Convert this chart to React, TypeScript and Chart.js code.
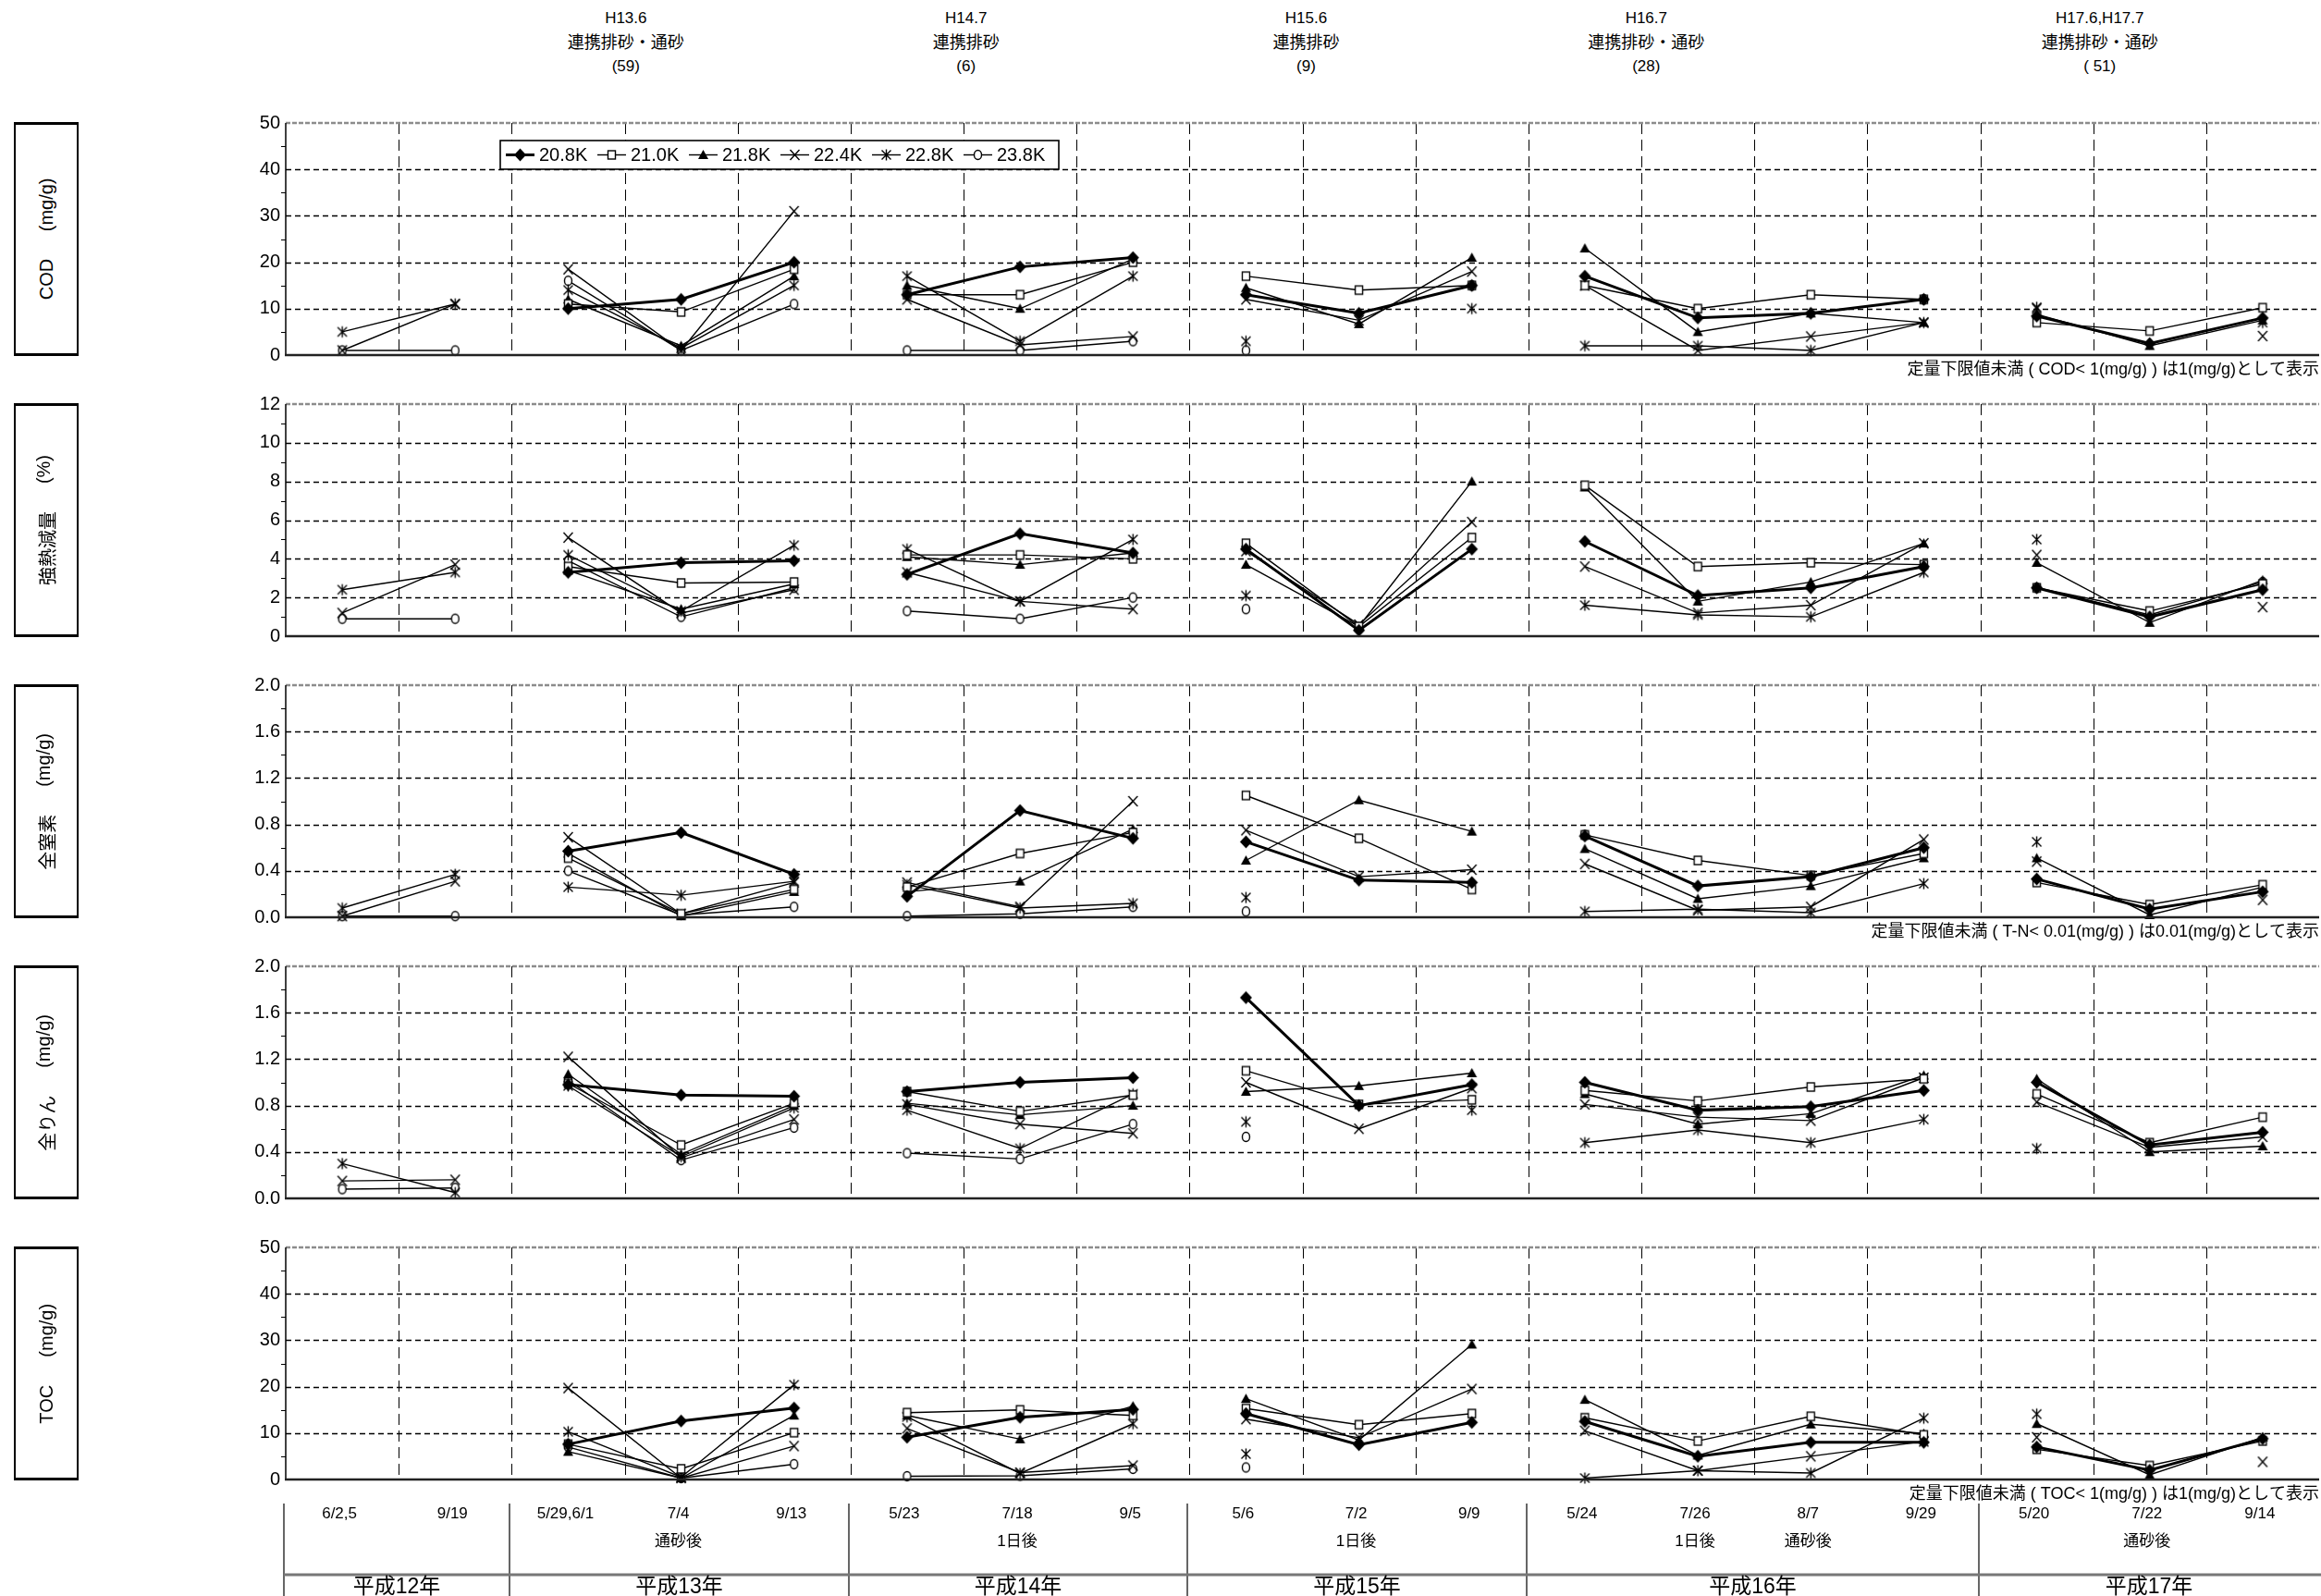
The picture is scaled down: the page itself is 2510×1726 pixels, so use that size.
import React, { useEffect, useRef } from 'react';
import { Chart, registerables } from 'chart.js';

Chart.register(...registerables);

// ---------- geometry ----------
const PAGE_W = 2510;
const PAGE_H = 1726;
const CANVAS_W = 2516;
const PLOT_LEFT = 309;
const PANEL_TOP0 = 133;
const PANEL_STEP = 304;
const PANEL_H = 251;
const PAD_TOP = 20;
const FONT = "'Liberation Sans', Arial, 'Noto Sans CJK JP', sans-serif";

// ---------- categories ----------
const slotLabels = ['6/2,5', '9/19', '5/29,6/1', '7/4', '9/13', '5/23', '7/18', '9/5', '5/6', '7/2', '9/9', '5/24', '7/26', '8/7', '9/29', '5/20', '7/22', '9/14'];
const slotNotes = ['', '', '', '通砂後', '', '', '1日後', '', '', '1日後', '', '', '1日後', '通砂後', '', '', '通砂後', ''];
const slotYear = [12, 12, 13, 13, 13, 14, 14, 14, 15, 15, 15, 16, 16, 16, 16, 17, 17, 17];
const yearLabels = ['平成12年', '平成13年', '平成14年', '平成15年', '平成16年', '平成17年'];
const yearStart = [0, 2, 5, 8, 11, 15];
const yearEnd = [2, 5, 8, 11, 15, 18];
const seriesNames = ['20.8K', '21.0K', '21.8K', '22.4K', '22.8K', '23.8K'];
const eventSlots = [3, 6, 9, 12, 16];
const eventTexts = [
  ['H13.6', '連携排砂・通砂', '(59)'],
  ['H14.7', '連携排砂', '(6)'],
  ['H15.6', '連携排砂', '(9)'],
  ['H16.7', '連携排砂・通砂', '(28)'],
  ['H17.6,H17.7', '連携排砂・通砂', '( 51)'],
];

// ---------- COD (mg/g) ----------
const cod208 = [null, null, 10, 12, 20, 13, 19, 21, 13, 9, 15, 17, 8, 9, 12, 8.4, 2.5, 8];
const cod210 = [null, null, 11, 9.3, 18.5, 13, 13, 20, 17, 14, 15, 15, 10, 13, 12, 7, 5.2, 10.2];
const cod218 = [null, null, 12, 2, 17, 15, 10, 20.7, 14.5, 6.7, 21, 23, 5, 9, 7, 8.8, 2, 7.5];
const cod224 = [1, 11, 18.5, 1, 31, 12, 2.2, 4, 12, 7.5, 18, 15, 1, 4, 7, 10, null, 4.1];
const cod228 = [5, 11, 14, 1.5, 15, 17, 3, 17, 3, null, 10, 2, 2, 1, 7, 10.3, null, 7];
const cod238 = [1, 1, 16, 1, 11, 1, 1, 3, 1, null, 15, null, null, null, 12, null, null, null];

// ---------- 強熱減量 (%) ----------
const ig208 = [null, null, 3.3, 3.8, 3.9, 3.2, 5.3, 4.3, 4.5, 0.3, 4.5, 4.9, 2.1, 2.5, 3.6, 2.5, 1.0, 2.4];
const ig210 = [null, null, 3.6, 2.75, 2.8, 4.2, 4.2, 4.0, 4.8, 0.5, 5.1, 7.8, 3.6, 3.8, 3.7, 2.5, 1.3, 2.7];
const ig218 = [null, null, 3.4, 1.4, 2.7, 4.1, 3.7, 4.3, 3.7, 0.5, 8.0, 7.7, 1.8, 2.8, 4.8, 3.8, 0.7, 2.9];
const ig224 = [1.2, 3.7, 5.1, 1.2, 2.4, 3.3, 1.8, 1.4, 4.4, 0.6, 5.9, 3.6, 1.2, 1.6, 4.8, 4.2, null, 1.5];
const ig228 = [2.4, 3.3, 4.2, 1.3, 4.7, 4.5, 1.8, 5.0, 2.1, null, null, 1.6, 1.1, 1.0, 3.3, 5.0, null, null];
const ig238 = [0.9, 0.9, 3.9, 1.0, 2.5, 1.3, 0.9, 2.0, 1.4, null, null, null, null, null, null, 2.5, 1.1, 2.8];

// ---------- 全窒素 (mg/g) ----------
const tn208 = [null, null, 0.57, 0.73, 0.37, 0.18, 0.92, 0.68, 0.65, 0.32, 0.30, 0.70, 0.27, 0.35, 0.60, 0.33, 0.07, 0.22];
const tn210 = [null, null, 0.51, 0.03, 0.24, 0.26, 0.55, 0.73, 1.05, 0.68, 0.24, 0.71, 0.49, 0.36, 0.55, 0.30, 0.11, 0.28];
const tn218 = [null, null, 0.55, 0.01, 0.22, 0.22, 0.31, 0.76, 0.49, 1.01, 0.74, 0.59, 0.16, 0.27, 0.51, 0.51, 0.02, 0.26];
const tn224 = [0.01, 0.31, 0.69, 0.03, 0.30, 0.30, 0.09, 1.0, 0.75, 0.35, 0.41, 0.46, 0.06, 0.09, 0.67, 0.48, null, 0.15];
const tn228 = [0.08, 0.37, 0.26, 0.19, 0.31, 0.28, 0.08, 0.12, 0.17, null, null, 0.05, 0.07, 0.04, 0.29, 0.65, null, null];
const tn238 = [0.01, 0.01, 0.40, 0.02, 0.09, 0.01, 0.03, 0.09, 0.05, null, null, 0.71, null, 0.35, null, null, null, null];

// ---------- 全りん (mg/g) ----------
const tp208 = [null, null, 0.98, 0.89, 0.88, 0.92, 1.0, 1.04, 1.73, 0.80, 0.98, 1.0, 0.76, 0.79, 0.93, 1.0, 0.46, 0.57];
const tp210 = [null, null, 0.99, 0.46, 0.82, 0.92, 0.75, 0.89, 1.10, 0.81, 0.85, 0.93, 0.84, 0.96, 1.03, 0.90, 0.48, 0.70];
const tp218 = [null, null, 1.07, 0.38, 0.80, 0.82, 0.72, 0.80, 0.92, 0.97, 1.08, 0.90, 0.64, 0.73, 1.06, 1.03, 0.40, 0.45];
const tp224 = [0.15, 0.16, 1.22, 0.35, 0.68, 0.81, 0.64, 0.56, 1.0, 0.60, 0.95, 0.81, 0.70, 0.67, 1.04, 0.83, 0.44, 0.53];
const tp228 = [0.30, 0.05, 0.97, 0.36, 0.78, 0.76, 0.43, 0.90, 0.66, null, 0.76, 0.48, 0.59, 0.48, 0.68, 0.43, null, null];
const tp238 = [0.08, 0.09, 1.02, 0.33, 0.61, 0.39, 0.34, 0.64, 0.53, null, null, null, null, null, null, null, null, null];

// ---------- TOC (mg/g) ----------
const toc208 = [null, null, 7.6, 12.6, 15.4, 9.1, 13.4, 15.1, 14.2, 7.5, 12.3, 12.5, 5.0, 8.0, 8.0, 7.0, 2.0, 8.8];
const toc210 = [null, null, 7.6, 2.3, 10.1, 14.4, 15.0, 13.8, 15.3, 11.8, 14.2, 13.3, 8.3, 13.6, 9.6, 6.5, 3.0, 8.3];
const toc218 = [null, null, 6.0, 0.3, 13.8, 13.8, 8.7, 15.8, 17.4, 8.5, 29.1, 17.2, 5.2, 11.9, 9.9, 12.0, 1.0, 9.1];
const toc224 = [null, null, 19.7, 0.3, 7.2, 11, 1.5, 3, 13, 9, 19.5, 10.5, 1.9, 5.0, 8.2, 9.1, null, 3.8];
const toc228 = [null, null, 10.3, 0.5, 20.4, 13.5, 1.3, 12, 5.5, null, null, 0.3, 1.9, 1.4, 13.2, 14.1, null, null];
const toc238 = [null, null, 7, 0.3, 3.3, 0.7, 0.8, 2.3, 2.6, null, null, null, null, null, null, null, null, null];

// ---------- axis ticks / notes ----------
const codTicks = { min: 0, max: 50, step: 10, dec: 0 };
const igTicks = { min: 0, max: 12, step: 2, dec: 0 };
const tnTicks = { min: 0, max: 2, step: 0.4, dec: 1 };
const tpTicks = { min: 0, max: 2, step: 0.4, dec: 1 };
const tocTicks = { min: 0, max: 50, step: 10, dec: 0 };

const panels = [
  { label: ['COD', '(mg/g)'], ticks: codTicks, data: [cod208, cod210, cod218, cod224, cod228, cod238], note: '定量下限値未満 ( COD< 1(mg/g) ) は1(mg/g)として表示' },
  { label: ['強熱減量', '(%)'], ticks: igTicks, data: [ig208, ig210, ig218, ig224, ig228, ig238], note: '' },
  { label: ['全窒素', '(mg/g)'], ticks: tnTicks, data: [tn208, tn210, tn218, tn224, tn228, tn238], note: '定量下限値未満 ( T-N< 0.01(mg/g) ) は0.01(mg/g)として表示' },
  { label: ['全りん', '(mg/g)'], ticks: tpTicks, data: [tp208, tp210, tp218, tp224, tp228, tp238], note: '' },
  { label: ['TOC', '(mg/g)'], ticks: tocTicks, data: [toc208, toc210, toc218, toc224, toc228, toc238], note: '定量下限値未満 ( TOC< 1(mg/g) ) は1(mg/g)として表示' },
];

// ---------- markers ----------
const markerKinds = ['diamond', 'square', 'triangle', 'x', 'star', 'circle'];
const markerCache: Record<string, HTMLCanvasElement> = {};
function marker(kind: string): HTMLCanvasElement {
  if (markerCache[kind]) return markerCache[kind];
  const c = document.createElement('canvas');
  const s = 17;
  c.width = s;
  c.height = s;
  const g = c.getContext('2d')!;
  g.translate(s / 2, s / 2);
  g.strokeStyle = '#000';
  g.fillStyle = '#000';
  g.lineWidth = 1.4;
  if (kind === 'diamond') {
    g.beginPath(); g.moveTo(0, -7); g.lineTo(6.5, 0); g.lineTo(0, 7); g.lineTo(-6.5, 0); g.closePath(); g.fill();
  } else if (kind === 'square') {
    g.fillStyle = '#fff'; g.fillRect(-4, -4.5, 8, 9); g.strokeRect(-4, -4.5, 8, 9);
  } else if (kind === 'triangle') {
    g.beginPath(); g.moveTo(0, -5.5); g.lineTo(5.5, 4.5); g.lineTo(-5.5, 4.5); g.closePath(); g.fill();
  } else if (kind === 'x') {
    g.beginPath(); g.moveTo(-5, -5.5); g.lineTo(5, 5.5); g.moveTo(5, -5.5); g.lineTo(-5, 5.5); g.stroke();
  } else if (kind === 'star') {
    g.beginPath(); g.moveTo(-5, -5); g.lineTo(5, 5); g.moveTo(5, -5); g.lineTo(-5, 5); g.moveTo(0, -6); g.lineTo(0, 6); g.stroke();
  } else {
    g.fillStyle = '#fff'; g.beginPath(); g.ellipse(0, 0, 4, 5, 0, 0, Math.PI * 2); g.fill(); g.stroke();
  }
  markerCache[kind] = c;
  return c;
}

function canvasTop(i: number) { return PANEL_TOP0 + PANEL_STEP * i - PAD_TOP; }
function canvasHeight(i: number) { return i === 4 ? PAGE_H - canvasTop(4) : 300; }

const gridPlugin = {
  id: 'customGrid',
  beforeDatasetsDraw(chart: any, _a: any, opts: any) {
    const { ctx, chartArea: a, scales } = chart;
    const xs = scales.x, ys = scales.y;
    const t = opts.ticks;
    ctx.save();
    ctx.strokeStyle = '#000';
    ctx.lineWidth = 1;
    ctx.setLineDash([12, 6]);
    for (let i = 1; i < slotLabels.length; i++) {
      const x = Math.round(xs.getPixelForValue(i - 0.5)) + 0.5;
      ctx.beginPath(); ctx.moveTo(x, a.top); ctx.lineTo(x, a.bottom); ctx.stroke();
    }
    ctx.setLineDash([6, 4]);
    ctx.lineWidth = 1.5;
    for (let k = 1; k * t.step < t.max - 1e-9; k++) {
      const y = Math.round(ys.getPixelForValue(k * t.step)) + 0.5;
      ctx.beginPath(); ctx.moveTo(a.left, y); ctx.lineTo(a.right, y); ctx.stroke();
    }
    ctx.strokeStyle = '#8c8c8c';
    ctx.lineWidth = 2.5;
    ctx.setLineDash([5, 2]);
    ctx.beginPath(); ctx.moveTo(a.left, a.top); ctx.lineTo(a.right, a.top); ctx.stroke();
    ctx.setLineDash([]);
    ctx.strokeStyle = '#000';
    ctx.lineWidth = 1.5;
    ctx.beginPath(); ctx.moveTo(a.left, a.top); ctx.lineTo(a.left, a.bottom); ctx.stroke();
    ctx.lineWidth = 1;
    for (let k = 0; (k + 0.5) * t.step < t.max; k++) {
      const y = Math.round(ys.getPixelForValue((k + 0.5) * t.step)) + 0.5;
      ctx.beginPath(); ctx.moveTo(a.left - 5, y); ctx.lineTo(a.left, y); ctx.stroke();
    }
    ctx.restore();
  },
  afterDatasetsDraw(chart: any) {
    const { ctx, chartArea: a } = chart;
    ctx.save();
    ctx.strokeStyle = '#222';
    ctx.lineWidth = 2.5;
    ctx.beginPath(); ctx.moveTo(a.left - 1, a.bottom); ctx.lineTo(a.right, a.bottom); ctx.stroke();
    ctx.restore();
  },
};

const notePlugin = {
  id: 'note',
  afterDraw(chart: any, _a: any, opts: any) {
    if (!opts.text) return;
    const { ctx, chartArea: a } = chart;
    ctx.save();
    ctx.fillStyle = '#000';
    ctx.font = `18px ${FONT}`;
    ctx.textAlign = 'right';
    ctx.textBaseline = 'middle';
    ctx.fillText(opts.text, PAGE_W - 2, a.bottom + 16);
    ctx.restore();
  },
};

const legendPlugin = {
  id: 'boxLegend',
  afterDraw(chart: any, _a: any, opts: any) {
    if (!opts.show) return;
    const { ctx, chartArea: a } = chart;
    const x0 = a.left + 232, y0 = a.top + 19, w = 604, h = 31;
    ctx.save();
    ctx.fillStyle = '#fff';
    ctx.fillRect(x0, y0, w, h);
    ctx.strokeStyle = '#000';
    ctx.lineWidth = 1.6;
    ctx.strokeRect(x0, y0, w, h);
    const cy = y0 + h / 2;
    ctx.font = `20px ${FONT}`;
    ctx.textBaseline = 'middle';
    ctx.textAlign = 'left';
    ctx.fillStyle = '#000';
    seriesNames.forEach((name, i) => {
      const sx = x0 + 6 + 99 * i;
      ctx.lineWidth = i === 0 ? 3 : 1.4;
      ctx.beginPath(); ctx.moveTo(sx, cy); ctx.lineTo(sx + 31, cy); ctx.stroke();
      const m = marker(markerKinds[i]);
      ctx.drawImage(m, Math.round(sx + 15.5 - m.width / 2), Math.round(cy - m.height / 2));
      ctx.fillText(name, sx + 36, cy + 1);
    });
    ctx.restore();
  },
};

const tablePlugin = {
  id: 'bottomTable',
  afterDraw(chart: any, _a: any, opts: any) {
    if (!opts.show) return;
    const { ctx } = chart;
    const xs = chart.scales.x;
    const off = canvasTop(4);
    const Y = (py: number) => py - off;
    ctx.save();
    ctx.strokeStyle = '#666';
    ctx.lineWidth = 2;
    const bx = yearStart.map((s) => Math.round(xs.getPixelForValue(s - 0.5)) - 2);
    bx.forEach((x) => {
      ctx.beginPath(); ctx.moveTo(x, Y(1626)); ctx.lineTo(x, Y(PAGE_H)); ctx.stroke();
    });
    ctx.lineWidth = 3;
    ctx.strokeStyle = '#777';
    ctx.beginPath(); ctx.moveTo(bx[0], Y(1703)); ctx.lineTo(CANVAS_W, Y(1703)); ctx.stroke();
    ctx.fillStyle = '#000';
    ctx.textAlign = 'center';
    ctx.textBaseline = 'middle';
    ctx.font = `17px ${FONT}`;
    slotLabels.forEach((lab, i) => {
      const x = xs.getPixelForValue(i) - 3;
      ctx.fillText(lab, x, Y(1637));
      if (slotNotes[i]) ctx.fillText(slotNotes[i], x, Y(1667));
    });
    ctx.font = `23px ${FONT}`;
    yearLabels.forEach((lab, k) => {
      const l = bx[k];
      const r = k + 1 < bx.length ? bx[k + 1] : Math.round(xs.getPixelForValue(yearEnd[k] - 0.5));
      ctx.fillText(lab, (l + r) / 2, Y(1717));
    });
    ctx.restore();
  },
};

function Panel({ index }: { index: number }) {
  const ref = useRef<HTMLCanvasElement>(null);
  const p = panels[index];
  const h = canvasHeight(index);
  useEffect(() => {
    const t = p.ticks;
    const datasets = seriesNames.map((name, si) => ({
      label: name,
      data: p.data[si],
      borderColor: '#000',
      backgroundColor: '#000',
      borderWidth: si === 0 ? 3 : 1.4,
      pointStyle: marker(markerKinds[si]),
      pointRadius: 5,
      pointHoverRadius: 5,
      tension: 0,
      spanGaps: false,
      clip: false as any,
      segment: {
        borderColor: (c: any) => (slotYear[c.p0DataIndex] !== slotYear[c.p1DataIndex] ? 'rgba(0,0,0,0)' : undefined),
      },
    }));
    const chart = new Chart(ref.current!, {
      type: 'line',
      data: { labels: slotLabels, datasets: datasets as any },
      plugins: [gridPlugin, notePlugin, legendPlugin, tablePlugin] as any,
      options: {
        responsive: false,
        maintainAspectRatio: false,
        animation: false,
        events: [],
        layout: { padding: { left: 0, right: 0, top: PAD_TOP, bottom: h - PAD_TOP - PANEL_H } },
        scales: {
          x: { type: 'category', offset: true, display: false },
          y: {
            type: 'linear',
            min: t.min,
            max: t.max,
            afterFit: (s: any) => { s.width = PLOT_LEFT; },
            grid: { display: false, drawTicks: false },
            border: { display: false },
            ticks: {
              stepSize: t.step,
              padding: 6,
              color: '#000',
              font: { family: FONT, size: 20 },
              callback: (v: any) => Number(v).toFixed(t.dec),
            },
          },
        },
        plugins: {
          legend: { display: false },
          tooltip: { enabled: false },
          customGrid: { ticks: t },
          note: { text: p.note },
          boxLegend: { show: index === 0 },
          bottomTable: { show: index === 4 },
        } as any,
      },
    });
    return () => chart.destroy();
  }, []);
  return (
    <canvas
      ref={ref}
      width={CANVAS_W}
      height={h}
      style={{ position: 'absolute', left: 0, top: canvasTop(index), width: CANVAS_W, height: h }}
    />
  );
}

function SideLabel({ index }: { index: number }) {
  const top = PANEL_TOP0 + PANEL_STEP * index - 1;
  const p = panels[index];
  return (
    <div
      style={{
        position: 'absolute', left: 15, top, width: 70, height: PANEL_H + 2,
        boxSizing: 'border-box', border: '2px solid #000', borderTopWidth: 3, borderBottomWidth: 3,
        display: 'flex', alignItems: 'center', justifyContent: 'center', background: '#fff',
      }}
    >
      <div
        style={{
          writingMode: 'vertical-rl', textOrientation: 'sideways', transform: 'rotate(180deg)',
          fontFamily: FONT, fontSize: 20, color: '#000', display: 'flex', gap: 30, whiteSpace: 'nowrap',
        }}
      >
        <span>{p.label[0]}</span>
        <span>{p.label[1]}</span>
      </div>
    </div>
  );
}

function EventLabel({ k }: { k: number }) {
  const slotW = (CANVAS_W - PLOT_LEFT) / slotLabels.length;
  const x = PLOT_LEFT + eventSlots[k] * slotW;
  const sizes = [17, 18, 17];
  return (
    <div
      style={{
        position: 'absolute', left: x - 150, top: 7, width: 300, textAlign: 'center',
        fontFamily: FONT, lineHeight: '26px', color: '#000',
      }}
    >
      {eventTexts[k].map((s, i) => (
        <div key={i} style={{ whiteSpace: 'pre', fontSize: sizes[i], height: 26 }}>{s}</div>
      ))}
    </div>
  );
}

export default function App() {
  useEffect(() => {
    document.body.style.margin = '0';
    document.body.style.overflow = 'hidden';
  }, []);
  return (
    <div style={{ position: 'relative', width: PAGE_W, height: PAGE_H, overflow: 'hidden', background: '#fff' }}>
      {panels.map((_, i) => (
        <Panel key={i} index={i} />
      ))}
      {panels.map((_, i) => (
        <SideLabel key={'s' + i} index={i} />
      ))}
      {eventTexts.map((_, k) => (
        <EventLabel key={'e' + k} k={k} />
      ))}
    </div>
  );
}
